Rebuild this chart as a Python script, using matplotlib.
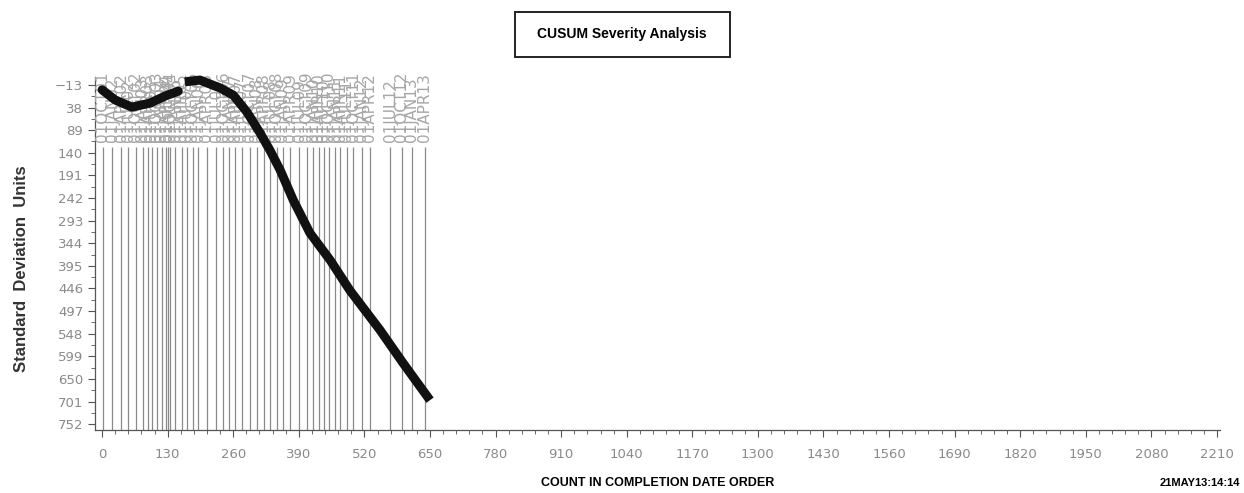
import numpy as np
import matplotlib
matplotlib.use("Agg")
import matplotlib.pyplot as plt
from matplotlib.ticker import MultipleLocator, AutoMinorLocator
from matplotlib.patches import Rectangle

# CUSUM curve, two runs (count in completion order, std deviation units)
run1_count = [0, 26, 59, 95, 125, 151]
run1_sd = [-2, 21, 37, 28, 12, 1]
run2_count = [164, 194, 234, 260, 287, 313, 333, 353, 379, 412, 452, 491, 551, 597, 650]
run2_sd = [-20, -24, -6, 10, 48, 95, 135, 179, 247, 321, 382, 450, 540, 615, 698]

# quarter boundaries along the count axis
quarter_counts = [1, 20, 38, 52, 67, 81, 90, 98, 108, 118,
                  127, 130, 135, 145, 158, 168, 180, 191, 207, 226,
                  240, 252, 264, 277, 293, 307, 320, 333, 346, 358,
                  373, 391, 406, 419, 429, 439, 449, 462, 472, 485,
                  498, 515, 531, 571, 594, 614, 640]
quarter_labels = ["01OCT01",
                  "01JAN02", "01APR02", "01JUL02", "01OCT02",
                  "01JAN03", "01APR03", "01JUL03", "01OCT03",
                  "01JAN04", "01APR04", "01JUL04", "01OCT04",
                  "01JAN05", "01APR05", "01JUL05", "01OCT05",
                  "01JAN06", "01APR06", "01JUL06", "01OCT06",
                  "01JAN07", "01APR07", "01JUL07", "01OCT07",
                  "01JAN08", "01APR08", "01JUL08", "01OCT08",
                  "01JAN09", "01APR09", "01JUL09", "01OCT09",
                  "01JAN10", "01APR10", "01JUL10", "01OCT10",
                  "01JAN11", "01APR11", "01JUL11", "01OCT11",
                  "01JAN12", "01APR12", "01JUL12", "01OCT12",
                  "01JAN13", "01APR13"]

x_ticks = np.arange(0, 2211, 130)
y_ticks = np.arange(-13, 753, 51)

gray = '#8a8a8a'
bold_font = ['Liberation Sans', 'DejaVu Sans']

fig = plt.figure(figsize=(12.44, 4.93), dpi=100)
ax = fig.add_axes([0.0764, 0.128, 0.9043, 0.715])

# reference lines + rotated quarter labels
ax.vlines(quarter_counts, 128, 765, color=gray, linewidth=0.9)
for xc, lab in zip(quarter_counts, quarter_labels):
    ax.text(xc, 116, lab, rotation=90, ha='center', va='bottom',
            fontsize=11, color='#a6a6a6', clip_on=False)

ax.plot(run1_count, run1_sd, color='#111111', linewidth=6.5,
        solid_capstyle='round', clip_on=False, zorder=5)
ax.plot(run2_count, run2_sd, color='#111111', linewidth=6.5,
        solid_capstyle='butt', solid_joinstyle='round', clip_on=False, zorder=5)

ax.set_xlim(-14, 2216)
ax.set_ylim(765, -30)
ax.set_xticks(x_ticks)
ax.set_yticks(y_ticks)
ax.xaxis.set_minor_locator(MultipleLocator(26))
ax.yaxis.set_minor_locator(AutoMinorLocator(2))
ax.tick_params(which='both', colors='#555555', labelcolor=gray, labelsize=9.5, direction='out')
ax.tick_params(which='major', length=5)
ax.tick_params(which='minor', length=3)
ax.tick_params(axis='x', pad=8)

for s in ['top', 'right']:
    ax.spines[s].set_visible(False)
for s in ['left', 'bottom']:
    ax.spines[s].set_color('#555555')
    ax.spines[s].set_linewidth(0.9)

fig.text(0.017, 0.456, 'Standard  Deviation  Units', rotation=90, ha='center', va='center',
         fontsize=12, fontweight='bold', color='#333333', family=bold_font)
fig.text(0.529, 0.02, 'COUNT IN COMPLETION DATE ORDER', ha='center', va='center',
         fontsize=9, fontweight='bold', family=bold_font)
fig.text(0.9646, 0.02, '21MAY13:14:14', ha='center', va='center',
         fontsize=8, fontweight='bold', family=bold_font)

# boxed title
fig.patches.append(Rectangle((515 / 1244, 1 - 57 / 493), 215 / 1244, 45 / 493,
                             transform=fig.transFigure, fill=False,
                             edgecolor='#222222', linewidth=1.4))
fig.text(622 / 1244, 1 - 34 / 493, 'CUSUM Severity Analysis', ha='center', va='center',
         fontsize=10, fontweight='bold', family=bold_font)

fig.savefig('out.png', dpi=100)
